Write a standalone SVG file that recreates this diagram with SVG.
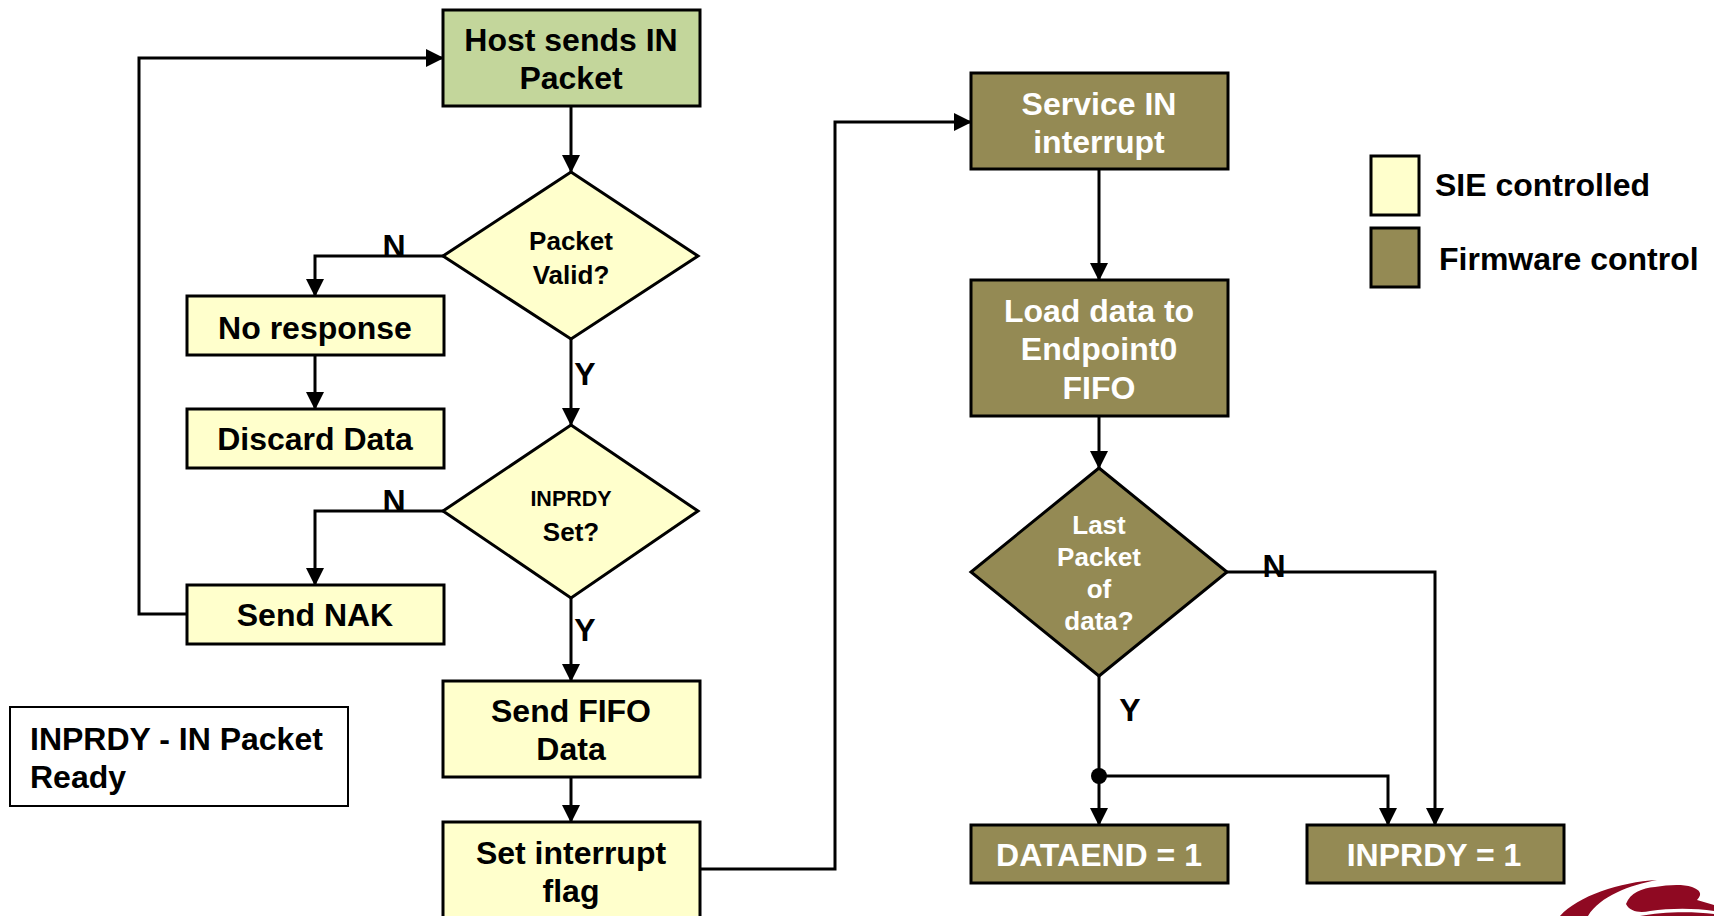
<svg xmlns="http://www.w3.org/2000/svg" width="1714" height="916" viewBox="0 0 1714 916">
<style>
text{font-family:"Liberation Sans",Arial,sans-serif;font-weight:700;fill:#000;text-anchor:middle}
.t{font-size:32px}
.d{font-size:26px}
.w{fill:#fff}
.l{text-anchor:start}
.y{fill:#ffffcc;stroke:#000;stroke-width:3}
.o{fill:#948a54;stroke:#000;stroke-width:3}
.g{fill:#c3d69b;stroke:#000;stroke-width:3}
.c{fill:none;stroke:#000;stroke-width:3}
</style>
<defs><marker id="a" markerUnits="userSpaceOnUse" markerWidth="18" markerHeight="20" refX="17" refY="9" orient="auto"><path d="M0 0L18 9L0 18Z" fill="#000"/></marker></defs>
<rect width="1714" height="916" fill="#fff"/>
<g id="connectors">
<path class="c" marker-end="url(#a)" d="M571 106V172"/>
<path class="c" marker-end="url(#a)" d="M443 256H315V296"/>
<path class="c" marker-end="url(#a)" d="M315 355V409"/>
<path class="c" marker-end="url(#a)" d="M571 339V425"/>
<path class="c" marker-end="url(#a)" d="M443 511H315V585"/>
<path class="c" marker-end="url(#a)" d="M187 614H139V58H443"/>
<path class="c" marker-end="url(#a)" d="M571 598V681"/>
<path class="c" marker-end="url(#a)" d="M571 777V822"/>
<path class="c" marker-end="url(#a)" d="M700 869H835V122H971"/>
<path class="c" marker-end="url(#a)" d="M1099 169V280"/>
<path class="c" marker-end="url(#a)" d="M1099 416V468"/>
<path class="c" marker-end="url(#a)" d="M1099 676V825"/>
<path class="c" marker-end="url(#a)" d="M1099 776H1388V825"/>
<path class="c" marker-end="url(#a)" d="M1227 572H1435V825"/>
<ellipse cx="1099" cy="776" rx="8" ry="8" fill="#000"/>
</g>
<g id="host"><rect class="g" x="443" y="10" width="257" height="96"/><text class="t" x="571" y="51">Host sends IN</text><text class="t" x="571" y="89">Packet</text></g>
<g id="valid"><path class="y" d="M571 172L698 256L571 339L443 256Z"/><text class="d" x="571" y="250">Packet</text><text class="d" x="571" y="284">Valid?</text></g>
<g id="noresp"><rect class="y" x="187" y="296" width="257" height="59"/><text class="t" x="315" y="339">No response</text></g>
<g id="discard"><rect class="y" x="187" y="409" width="257" height="59"/><text class="t" x="315" y="450">Discard Data</text></g>
<g id="inprdy"><path class="y" d="M571 425L698 511L571 598L443 511Z"/><text x="571" y="506" font-size="21.5">INPRDY</text><text class="d" x="571" y="541">Set?</text></g>
<g id="nak"><rect class="y" x="187" y="585" width="257" height="59"/><text class="t" x="315" y="626">Send NAK</text></g>
<g id="fifo"><rect class="y" x="443" y="681" width="257" height="96"/><text class="t" x="571" y="722">Send FIFO</text><text class="t" x="571" y="760">Data</text></g>
<g id="flag"><rect class="y" x="443" y="822" width="257" height="96"/><text class="t" x="571" y="864">Set interrupt</text><text class="t" x="571" y="902">flag</text></g>
<g id="note"><rect x="10" y="707" width="338" height="99" fill="#fff" stroke="#000" stroke-width="2"/><text class="t l" x="30" y="750">INPRDY - IN Packet</text><text class="t l" x="30" y="788">Ready</text></g>
<g id="service"><rect class="o" x="971" y="73" width="257" height="96"/><text class="t w" x="1099" y="115">Service IN</text><text class="t w" x="1099" y="153">interrupt</text></g>
<g id="load"><rect class="o" x="971" y="280" width="257" height="136"/><text class="t w" x="1099" y="322">Load data to</text><text class="t w" x="1099" y="360">Endpoint0</text><text class="t w" x="1099" y="399">FIFO</text></g>
<g id="last"><path class="o" d="M1099 468L1227 572L1099 676L971 572Z"/><text class="d w" x="1099" y="534">Last</text><text class="d w" x="1099" y="566">Packet</text><text class="d w" x="1099" y="598">of</text><text class="d w" x="1099" y="630">data?</text></g>
<g id="dataend"><rect class="o" x="971" y="825" width="257" height="58"/><text class="t w" x="1099" y="866">DATAEND = 1</text></g>
<g id="inprdy1"><rect class="o" x="1307" y="825" width="257" height="58"/><text class="t w" x="1434" y="866">INPRDY = 1</text></g>
<g id="legend1"><rect class="y" x="1371" y="156" width="48" height="59"/><text class="t l" x="1435" y="196">SIE controlled</text></g>
<g id="legend2"><rect class="o" x="1371" y="228" width="48" height="59"/><text class="t l" x="1439" y="270">Firmware control</text></g>
<text class="t" x="394" y="257">N</text>
<text class="t" x="394" y="512">N</text>
<text class="t" x="1274" y="577">N</text>
<text class="t" x="585" y="385">Y</text>
<text class="t" x="585" y="641">Y</text>
<text class="t" x="1130" y="721">Y</text>
<g id="logo" fill="#8f0922">
<path d="M1560 916C1578 896 1620 882 1657 880C1630 885 1600 896 1588 916Z"/>
<path d="M1626 904C1630 893 1642 888 1655 887C1668 885 1682 884 1692 887C1700 890 1703 894 1697 900L1714 905V911C1695 908 1670 908 1650 911C1640 913 1630 912 1626 904Z"/>
<path d="M1640 916C1660 912 1690 911 1714 914V916Z"/>
</g>
</svg>
